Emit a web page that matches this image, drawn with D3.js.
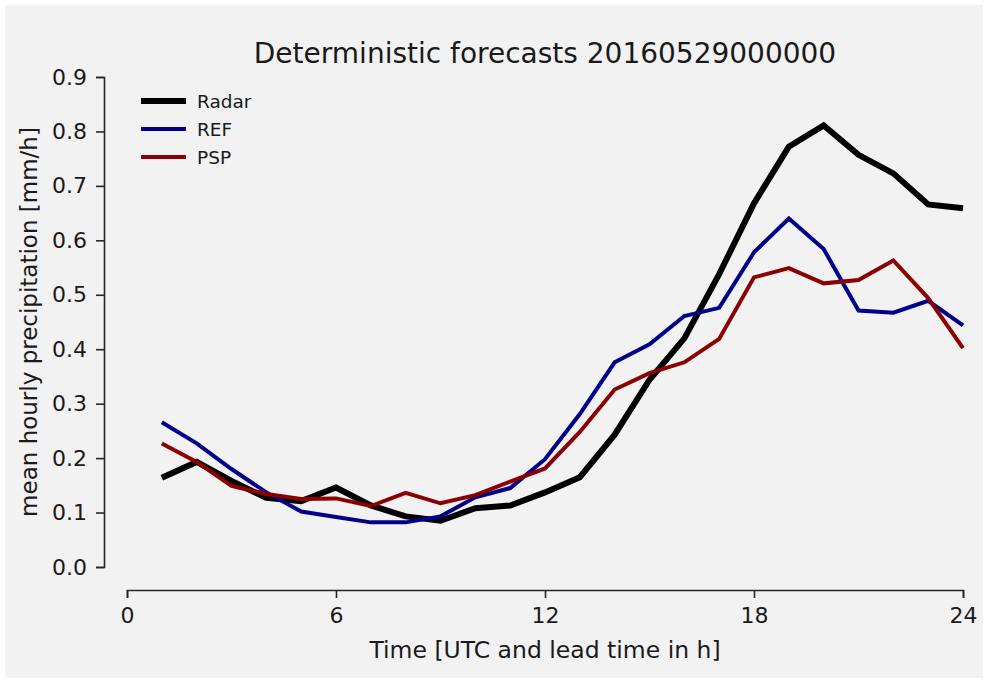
<!DOCTYPE html>
<html>
<head>
<meta charset="utf-8">
<script src="https://cdn.jsdelivr.net/npm/d3@7"></script>
<style>
body { margin: 0; background: #ffffff; }
svg { display: block; font-family: "DejaVu Sans", sans-serif; }
</style>
</head>
<body>
<svg id="chart" width="988" height="682"></svg>
<script>
var hours = [1, 2, 3, 4, 5, 6, 7, 8, 9, 10, 11, 12, 13, 14, 15, 16, 17, 18, 19, 20, 21, 22, 23, 24];
var radar = [0.164, 0.193, 0.158, 0.127, 0.121, 0.146, 0.113, 0.093, 0.085, 0.108, 0.113, 0.137, 0.165, 0.243, 0.344, 0.420, 0.538, 0.668, 0.772, 0.811, 0.757, 0.723, 0.666, 0.659];
var ref = [0.266, 0.227, 0.180, 0.137, 0.102, 0.092, 0.082, 0.082, 0.093, 0.128, 0.145, 0.198, 0.281, 0.376, 0.409, 0.461, 0.476, 0.578, 0.640, 0.584, 0.471, 0.467, 0.489, 0.444];
var psp = [0.227, 0.193, 0.149, 0.134, 0.125, 0.126, 0.112, 0.136, 0.117, 0.132, 0.157, 0.181, 0.248, 0.326, 0.356, 0.376, 0.419, 0.532, 0.549, 0.521, 0.527, 0.563, 0.494, 0.402];
var xTicks = [0, 6, 12, 18, 24];
var yTicks = [0, 0.1, 0.2, 0.3, 0.4, 0.5, 0.6, 0.7, 0.8, 0.9];

var series = [
  { name: "Radar", values: radar, color: "#000000", width: 6 },
  { name: "REF", values: ref, color: "#00008b", width: 4 },
  { name: "PSP", values: psp, color: "#8b0000", width: 4 }
];

var svg = d3.select("#chart");
svg.append("rect").attr("x", 5).attr("y", 5).attr("width", 978).attr("height", 673).attr("fill", "#f2f2f2");

var x = d3.scaleLinear().domain([0, 24]).range([127, 963]);
var y = d3.scaleLinear().domain([0, 0.9]).range([567, 77]);

// offset spines like seaborn despine
var yAxis = svg.append("g").attr("transform", "translate(104,0)")
  .call(d3.axisLeft(y).tickValues(yTicks).tickFormat(d3.format(".1f")).tickSize(8).tickPadding(9));
var xAxis = svg.append("g").attr("transform", "translate(0,590)")
  .call(d3.axisBottom(x).tickValues(xTicks).tickSize(8).tickPadding(9));
[xAxis, yAxis].forEach(function (a) {
  a.selectAll("path, line").attr("stroke", "#262626").attr("stroke-width", 1.6);
  a.selectAll("text").attr("font-size", "22px").attr("fill", "#1a1a1a").attr("font-family", "DejaVu Sans, sans-serif");
});

var line = d3.line().x(function (d, i) { return x(hours[i]); }).y(function (d) { return y(d); });
svg.append("g").selectAll("path").data(series).join("path")
  .attr("fill", "none")
  .attr("stroke", function (d) { return d.color; })
  .attr("stroke-width", function (d) { return d.width; })
  .attr("stroke-linejoin", "miter")
  .attr("d", function (d) { return line(d.values); });

var legend = svg.append("g").selectAll("g").data(series).join("g")
  .attr("transform", function (d, i) { return "translate(141," + (101 + i * 28) + ")"; });
legend.append("line").attr("x1", 0).attr("x2", 45).attr("y1", 0).attr("y2", 0)
  .attr("stroke", function (d) { return d.color; })
  .attr("stroke-width", function (d) { return d.width; });
legend.append("text").attr("x", 56).attr("y", 7).attr("font-size", "18.5px").attr("fill", "#1a1a1a")
  .text(function (d) { return d.name; });

svg.append("text").attr("x", 545).attr("y", 63).attr("text-anchor", "middle")
  .attr("font-size", "28px").attr("fill", "#1a1a1a").text("Deterministic forecasts 20160529000000");
svg.append("text").attr("x", 545).attr("y", 658).attr("text-anchor", "middle")
  .attr("font-size", "23.5px").attr("fill", "#1a1a1a").text("Time [UTC and lead time in h]");
svg.append("text").attr("transform", "translate(37,322) rotate(-90)").attr("text-anchor", "middle")
  .attr("font-size", "23px").attr("fill", "#1a1a1a").text("mean hourly precipitation [mm/h]");
</script>
</body>
</html>
